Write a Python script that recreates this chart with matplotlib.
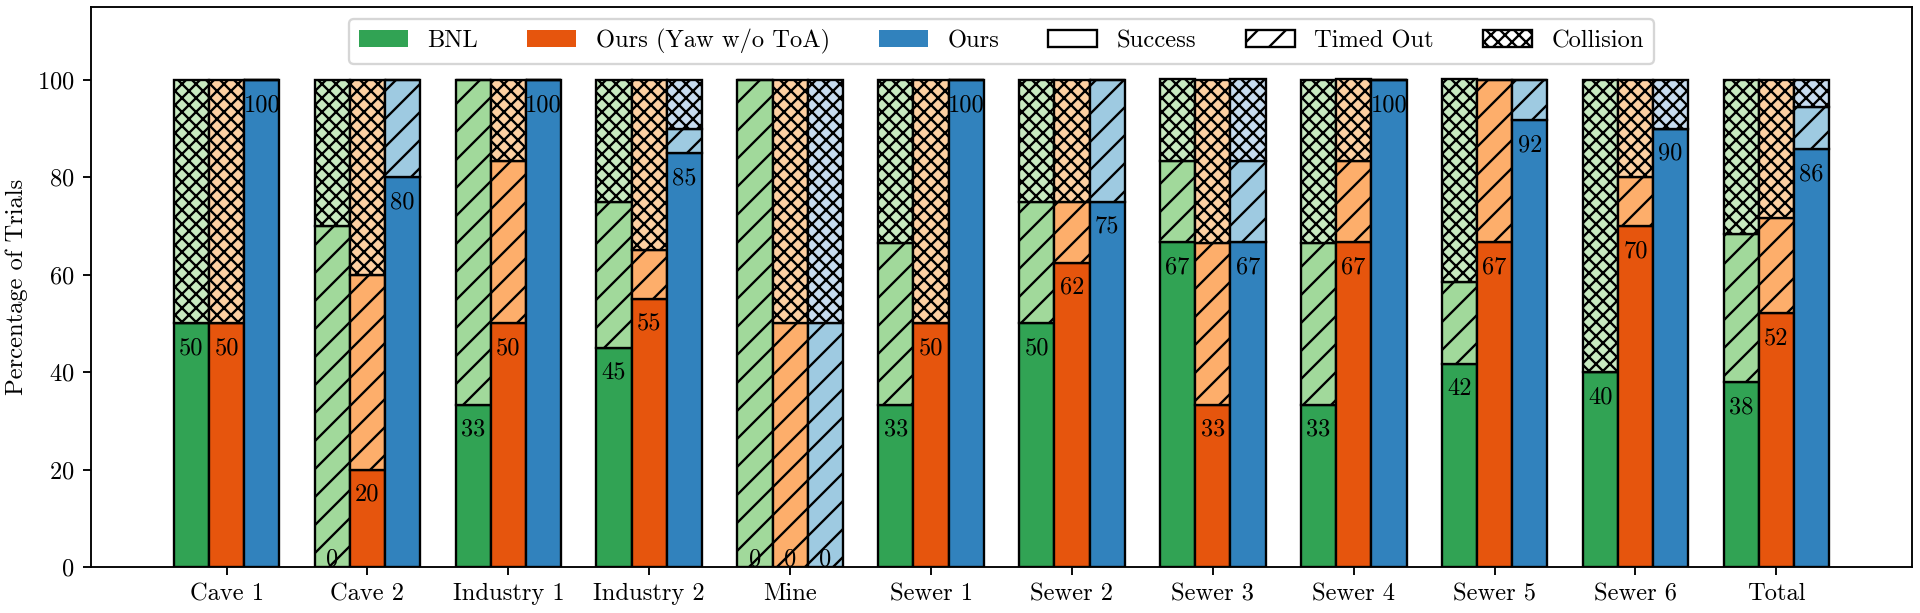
import numpy as np
import matplotlib.pyplot as plt
from matplotlib.patches import Patch

plt.rcParams['font.family'] = 'serif'
plt.rcParams['font.serif'] = ['cmr10']
plt.rcParams['axes.formatter.use_mathtext'] = True
plt.rcParams['font.size'] = 10.5
plt.rcParams['hatch.color'] = 'black'

envs = ['Cave 1', 'Cave 2', 'Industry 1', 'Industry 2', 'Mine', 'Sewer 1',
        'Sewer 2', 'Sewer 3', 'Sewer 4', 'Sewer 5', 'Sewer 6', 'Total']

bnl_success = [50, 0, 33.3, 45, 0, 33.3, 50, 66.7, 33.3, 41.7, 40, 37.9]
bnl_timeout = [0, 70, 66.7, 30, 100, 33.3, 25, 16.7, 33.3, 16.7, 0, 30.4]
bnl_collision = [50, 30, 0, 25, 0, 33.3, 25, 16.7, 33.3, 41.7, 60, 31.7]

yaw_success = [50, 20, 50, 55, 0, 50, 62.5, 33.3, 66.7, 66.7, 70, 52.1]
yaw_timeout = [0, 40, 33.3, 10, 50, 0, 12.5, 33.3, 16.7, 33.3, 10, 19.5]
yaw_collision = [50, 40, 16.7, 35, 50, 50, 25, 33.3, 16.7, 0, 20, 28.4]

ours_success = [100, 80, 100, 85, 0, 100, 75, 66.7, 100, 91.7, 90, 85.8]
ours_timeout = [0, 20, 0, 5, 50, 0, 25, 16.7, 0, 8.3, 0, 8.6]
ours_collision = [0, 0, 0, 10, 50, 0, 0, 16.7, 0, 0, 10, 5.6]

methods = ['BNL', 'Ours (Yaw w/o ToA)', 'Ours']
outcomes = ['Success', 'Timed Out', 'Collision']
hatches = ['', '//', 'xxxx']

# tab20c shades: dark for success, lighter for timed out / collision
cmap = plt.get_cmap('tab20c')
shades = {
    'BNL': [cmap(8), cmap(10), cmap(11)],
    'Ours (Yaw w/o ToA)': [cmap(4), cmap(6), cmap(7)],
    'Ours': [cmap(0), cmap(2), cmap(3)],
}

data = {
    'BNL': [bnl_success, bnl_timeout, bnl_collision],
    'Ours (Yaw w/o ToA)': [yaw_success, yaw_timeout, yaw_collision],
    'Ours': [ours_success, ours_timeout, ours_collision],
}

fig, ax = plt.subplots(figsize=(1920 / 168, 613 / 168), dpi=168)
fig.subplots_adjust(left=0.0474, right=0.9958, bottom=0.075, top=0.989)

x = np.arange(len(envs))
width = 0.25

for i, m in enumerate(methods):
    xs = x + (i - 1) * width
    bottom = np.zeros(len(envs))
    for j in range(3):
        vals = np.array(data[m][j], dtype=float)
        ax.bar(xs, vals, width, bottom=bottom, color=shades[m][j],
               edgecolor='black', linewidth=1, hatch=hatches[j])
        bottom += vals
    for xi, v in zip(xs, data[m][0]):
        ax.text(xi, max(v - 6.4, 0.4), str(int(round(v))), ha='center',
                va='baseline')

ax.set_xticks(x)
ax.set_xticklabels(envs)
ax.set_yticks([0, 20, 40, 60, 80, 100])
ax.set_ylim(0, 115)
ax.set_ylabel('Percentage of Trials')

handles = [Patch(facecolor=shades[m][0], label=m) for m in methods]
handles += [Patch(facecolor='white', edgecolor='black', hatch=h, label=o)
            for o, h in zip(outcomes, hatches)]
ax.legend(handles=handles, loc='upper center', ncol=6)

plt.savefig('out.png', dpi=168)
